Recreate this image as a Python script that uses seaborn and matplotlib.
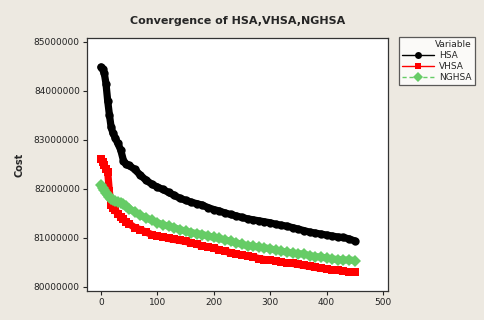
import pandas as pd
import matplotlib
matplotlib.use("Agg")
import matplotlib.pyplot as plt
import seaborn as sns

iterations = [0, 3, 6, 9, 12, 15, 18, 21, 25, 30, 35, 40, 45, 50, 60, 70, 80, 90, 100,
              110, 120, 130, 140, 150, 160, 170, 180, 190, 200, 210, 220, 230, 240, 250,
              260, 270, 280, 290, 300, 310, 320, 330, 340, 350, 360, 370, 380, 390, 400,
              410, 420, 430, 440, 450]

# cost values in millions
hsa = [84.49, 84.44, 84.36, 84.15, 83.80, 83.52, 83.27, 83.15, 83.05, 82.93, 82.80, 82.58,
       82.50, 82.48, 82.40, 82.28, 82.18, 82.10, 82.04, 81.99, 81.93, 81.87, 81.81, 81.77,
       81.73, 81.70, 81.67, 81.62, 81.58, 81.55, 81.51, 81.48, 81.45, 81.42, 81.39, 81.37,
       81.35, 81.33, 81.31, 81.28, 81.26, 81.24, 81.21, 81.18, 81.15, 81.12, 81.10, 81.08,
       81.06, 81.04, 81.02, 81.01, 80.98, 80.94]
vhsa = [82.62, 82.56, 82.48, 82.40, 82.35, 81.95, 81.68, 81.62, 81.58, 81.49, 81.43, 81.38,
        81.33, 81.29, 81.21, 81.17, 81.12, 81.07, 81.04, 81.02, 80.99, 80.97, 80.95, 80.93,
        80.90, 80.87, 80.84, 80.82, 80.79, 80.76, 80.73, 80.70, 80.68, 80.65, 80.63, 80.61,
        80.58, 80.56, 80.55, 80.53, 80.51, 80.49, 80.48, 80.46, 80.44, 80.42, 80.40, 80.38,
        80.37, 80.35, 80.34, 80.32, 80.31, 80.31]
nghsa = [82.09, 82.03, 81.97, 81.92, 81.87, 81.83, 81.80, 81.78, 81.76, 81.74, 81.71, 81.69,
         81.65, 81.60, 81.53, 81.46, 81.41, 81.36, 81.31, 81.27, 81.24, 81.21, 81.17, 81.14,
         81.11, 81.09, 81.07, 81.04, 81.01, 80.99, 80.96, 80.93, 80.90, 80.87, 80.84, 80.83,
         80.81, 80.80, 80.78, 80.75, 80.73, 80.71, 80.69, 80.68, 80.67, 80.64, 80.62, 80.61,
         80.59, 80.57, 80.56, 80.55, 80.55, 80.54]

series_names = ["HSA", "VHSA", "NGHSA"]
colors = {"HSA": "#000000", "VHSA": "#ff0000", "NGHSA": "#66cc66"}
markers = {"HSA": "o", "VHSA": "s", "NGHSA": "D"}
dashes = {"HSA": "", "VHSA": "", "NGHSA": (4, 2)}

frames = []
for name, vals in zip(series_names, [hsa, vhsa, nghsa]):
    frames.append(pd.DataFrame({"Iteration": iterations,
                                "Cost": [v * 1e6 for v in vals],
                                "Variable": name}))
df = pd.concat(frames, ignore_index=True)

bg = "#ede9e1"
sns.set_style("white")
plt.rcParams["font.family"] = ["DejaVu Sans"]

fig = plt.figure(figsize=(4.85, 3.2), dpi=100, facecolor=bg)
ax = fig.add_axes([0.179, 0.091, 0.621, 0.79])

sns.lineplot(data=df, x="Iteration", y="Cost", hue="Variable", style="Variable",
             palette=colors, markers=markers, dashes=dashes, hue_order=series_names,
             style_order=series_names, markersize=6, markeredgewidth=0,
             linewidth=5.2, ax=ax)
# main curves drawn solid so the marker band stays continuous
for line in ax.lines:
    line.set_linestyle("-")
    line.set_solid_capstyle("round")
    line.set_solid_joinstyle("round")

ax.set_xlim(-25, 509)
ax.set_ylim(79.92e6, 85.08e6)
ax.set_xticks([0, 100, 200, 300, 400, 500])
ax.set_yticks([80e6, 81e6, 82e6, 83e6, 84e6, 85e6])
ax.set_yticklabels(["80000000", "81000000", "82000000", "83000000", "84000000", "85000000"])
ax.tick_params(axis="both", labelsize=6.5, length=3, width=0.8, direction="out",
               left=True, bottom=True, colors="#222222", pad=2)
for s in ax.spines.values():
    s.set_color("#333333")
    s.set_linewidth(0.9)
ax.set_xlabel("")
ax.set_ylabel("Cost", fontsize=7, fontweight="bold", labelpad=7)
ax.set_title("Convergence of HSA,VHSA,NGHSA", fontsize=8, fontweight="bold", pad=10)

handles, labels = ax.get_legend_handles_labels()
ax.get_legend().remove()
for h, name in zip(handles, labels):
    h.set_linewidth(1)
    h.set_markersize(5)
    if name == "NGHSA":
        h.set_dashes((3, 2))
leg = fig.legend(handles, labels, title="Variable", loc="upper left",
                 bbox_to_anchor=(0.822, 0.884), fontsize=6.5, title_fontsize=6.5,
                 frameon=True, fancybox=False, edgecolor="#333333", handlelength=3.6,
                 borderpad=0.35, labelspacing=0.2, handletextpad=0.5, borderaxespad=0)
leg.get_frame().set_linewidth(0.9)
leg._legend_box.align = "right"

fig.savefig("out.png", dpi=100, facecolor=bg)
